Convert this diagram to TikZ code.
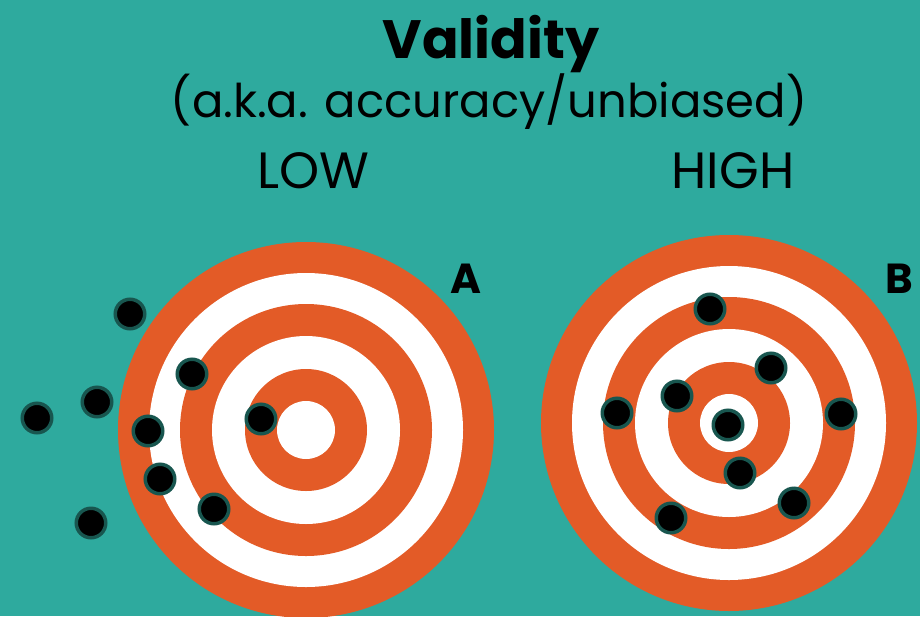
\documentclass[tikz,border=0pt]{standalone}
\usepackage{fontspec}
\setmainfont{Poppins}
\definecolor{bgteal}{RGB}{46,170,158}
\definecolor{ringorange}{RGB}{227,91,39}
\definecolor{dotedge}{RGB}{24,86,79}
\tikzset{
  dotmark/.style={circle, fill=black, draw=dotedge, line width=3.5pt, minimum size=29.5pt, inner sep=0pt},
  txt/.style={anchor=base, inner sep=0pt, text=black},
}
\newcommand{\target}[1]{%
  \fill[ringorange] (#1) circle (188);
  \fill[white] (#1) circle (157);
  \fill[ringorange] (#1) circle (126);
  \fill[white] (#1) circle (94);
  \fill[ringorange] (#1) circle (61);
  \fill[white] (#1) circle (29);
}
\begin{document}
\begin{tikzpicture}[x=1pt,y=-1pt]
\fill[bgteal] (0,0) rectangle (920,616);
\useasboundingbox (0,0) rectangle (920,616);
\clip (0,0) rectangle (920,616);
\coordinate (ca) at (306,430);
\coordinate (cb) at (729,423);
\target{ca}
\target{cb}
% titles
\node[txt, font=\fontsize{54}{54}\selectfont\bfseries] (title) at (491,58) {Validity};
\node[txt, font=\fontsize{46.5}{46.5}\selectfont] (sub) at (489,117) {(a.k.a. accuracy/unbiased)};
\node[txt, font=\fontsize{51}{51}\selectfont] (low) at (313,188) {LOW};
\node[txt, font=\fontsize{51}{51}\selectfont] (high) at (733,188) {HIGH};
\node[txt, font=\fontsize{42}{42}\selectfont\bfseries] (la) at (466,293) {A};
\node[txt, font=\fontsize{42}{42}\selectfont\bfseries] (lb) at (899,293) {B};
% dots A
\node[dotmark] (a1) at (130,314) {};
\node[dotmark] (a2) at (37,418) {};
\node[dotmark] (a3) at (97,402) {};
\node[dotmark] (a4) at (192,374) {};
\node[dotmark] (a5) at (148,431) {};
\node[dotmark] (a6) at (160,479) {};
\node[dotmark] (a7) at (214,509) {};
\node[dotmark] (a8) at (91,523) {};
\node[dotmark] (a9) at (261,419) {};
% dots B
\node[dotmark] (b1) at (710,309) {};
\node[dotmark] (b2) at (771,368) {};
\node[dotmark] (b3) at (677,396) {};
\node[dotmark] (b4) at (617,413) {};
\node[dotmark] (b5) at (841,414) {};
\node[dotmark] (b6) at (728,425) {};
\node[dotmark] (b7) at (740,473) {};
\node[dotmark] (b8) at (794,503) {};
\node[dotmark] (b9) at (671,518) {};
\end{tikzpicture}
\end{document}
